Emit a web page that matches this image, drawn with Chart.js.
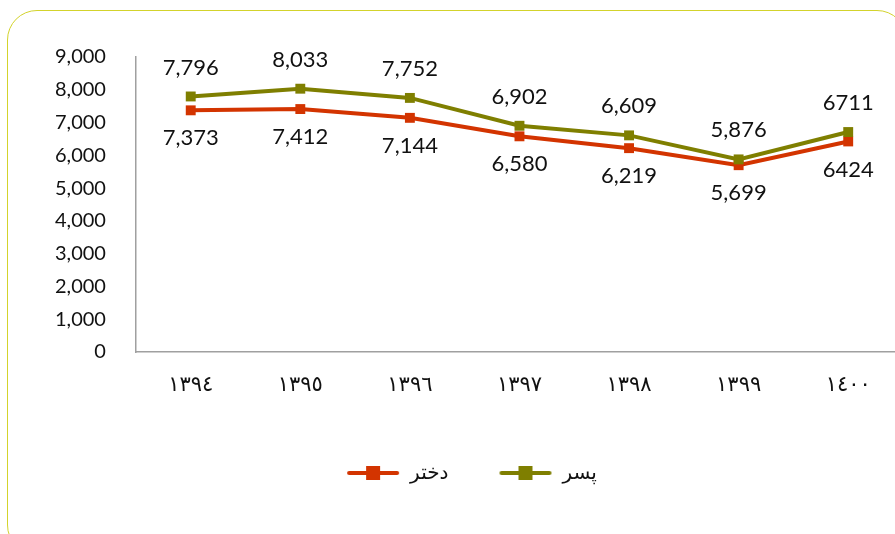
<!DOCTYPE html>
<html>
<head>
<meta charset="utf-8">
<script src="https://cdn.jsdelivr.net/npm/chart.js@4/dist/chart.umd.min.js"></script>
<style>
  html, body { margin: 0; padding: 0; background: #fff; overflow: hidden; }
  #frame {
    position: absolute; left: 7px; top: 10px; width: 900px; height: 545px;
    border: 1.5px solid #d3d32c; border-radius: 30px; box-sizing: border-box;
  }
  #wrap { position: absolute; left: 0; top: 0; width: 910px; height: 534px; }
</style>
</head>
<body>
<div id="frame"></div>
<div id="wrap"><canvas id="chart" width="910" height="534"></canvas></div>
<script>
// سال ها
var years = ['١٣٩٤', '١٣٩٥', '١٣٩٦', '١٣٩٧', '١٣٩٨', '١٣٩٩', '١٤٠٠'];
var pesar = [7796, 8033, 7752, 6902, 6609, 5876, 6711];
var dokhtar = [7373, 7412, 7144, 6580, 6219, 5699, 6424];
var yTicks = [0, 1000, 2000, 3000, 4000, 5000, 6000, 7000, 8000, 9000];

var green = '#7f7f00',
    red = '#d33400',
    font = "Lato, 'DejaVu Sans', sans-serif";

// نماد راهنما: خط با مربع وسط
function legendIcon(color) {
    var c = document.createElement('canvas');
    c.width = 54; c.height = 16;
    var g = c.getContext('2d');
    g.strokeStyle = color; g.lineWidth = 4; g.lineCap = 'round';
    g.beginPath(); g.moveTo(3, 8); g.lineTo(51, 8); g.stroke();
    g.fillStyle = color; g.fillRect(20, 1, 14, 14);
    return c;
}

function fmt(v, i, arr) {
    // آخرین مقدار بدون جداکننده است
    return i === arr.length - 1 ? String(v) : v.toLocaleString('en-US');
}

var labelPlugin = {
    id: 'pointLabels',
    afterDatasetsDraw: function (chart) {
        var ctx = chart.ctx;
        ctx.save();
        ctx.font = '22px ' + font;
        ctx.fillStyle = '#111';
        ctx.textAlign = 'center';
        ctx.textBaseline = 'middle';
        chart.data.datasets.forEach(function (ds, di) {
            var meta = chart.getDatasetMeta(di);
            meta.data.forEach(function (pt, i) {
                var dy = ds.labelAbove ? -29 : 28;
                ctx.fillText(fmt(ds.data[i], i, ds.data), pt.x, pt.y + dy);
            });
        });
        ctx.restore();
    }
};

new Chart(document.getElementById('chart').getContext('2d'), {
    type: 'line',
    data: {
        labels: years,
        datasets: [{
            label: 'پسر',
            data: pesar,
            borderColor: green,
            backgroundColor: green,
            borderWidth: 4,
            pointStyle: 'rect',
            pointRadius: 7,
            pointHoverRadius: 7,
            pointBorderWidth: 0,
            labelAbove: true,
            icon: legendIcon(green)
        }, {
            label: 'دختر',
            data: dokhtar,
            borderColor: red,
            backgroundColor: red,
            borderWidth: 4,
            pointStyle: 'rect',
            pointRadius: 7,
            pointHoverRadius: 7,
            pointBorderWidth: 0,
            labelAbove: false,
            icon: legendIcon(red)
        }]
    },
    options: {
        responsive: false,
        devicePixelRatio: 1,
        animation: false,
        layout: { padding: { top: 57, left: 33, right: 0, bottom: 41 } },
        plugins: {
            tooltip: { enabled: false },
            legend: {
                position: 'bottom',
                reverse: true,
                labels: {
                    usePointStyle: true,
                    pointStyleWidth: 54,
                    padding: 50,
                    color: '#111',
                    font: { family: font, size: 20 },
                    generateLabels: function (chart) {
                        return chart.data.datasets.map(function (ds, i) {
                            return {
                                text: ds.label,
                                pointStyle: ds.icon,
                                datasetIndex: i,
                                fillStyle: ds.borderColor,
                                strokeStyle: ds.borderColor,
                                fontColor: '#111',
                                lineWidth: 0
                            };
                        });
                    }
                }
            }
        },
        scales: {
            x: {
                offset: true,
                grid: { display: false },
                border: { display: true, color: '#a0a0a0', width: 1.5 },
                ticks: { color: '#111', padding: 12, font: { family: font, size: 21 } },
                afterFit: function (s) { s.height = 61; }
            },
            y: {
                min: 0,
                max: 9000,
                grid: { display: false },
                border: { display: true, color: '#a0a0a0', width: 1.5 },
                afterBuildTicks: function (s) {
                    s.ticks = yTicks.map(function (v) { return { value: v }; });
                },
                ticks: {
                    color: '#111',
                    padding: 22,
                    font: { family: font, size: 20 },
                    callback: function (v) { return v.toLocaleString('en-US'); }
                }
            }
        }
    },
    plugins: [labelPlugin]
});
</script>
</body>
</html>
